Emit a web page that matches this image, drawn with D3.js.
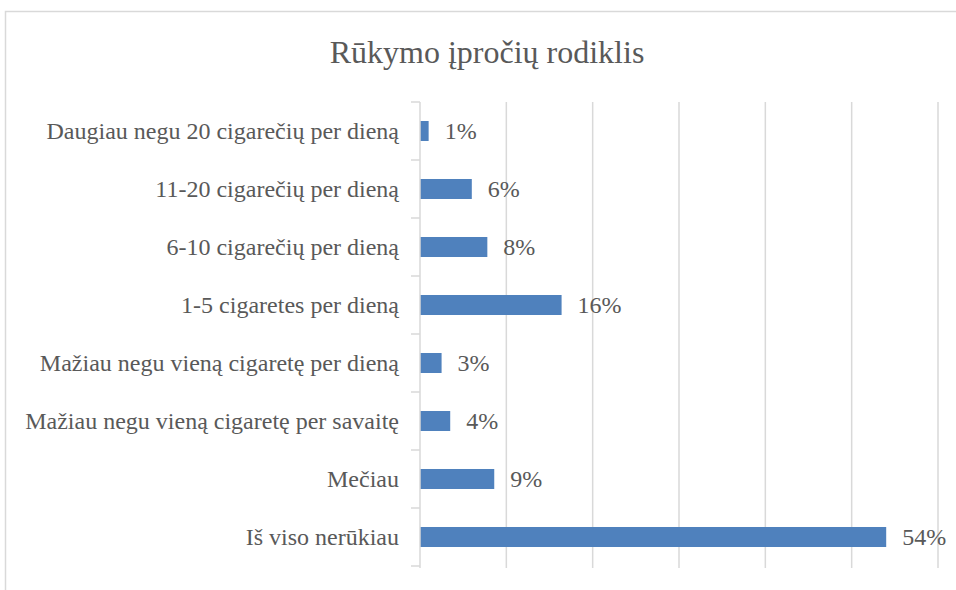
<!DOCTYPE html>
<html><head><meta charset="utf-8">
<script src="https://cdn.jsdelivr.net/npm/d3@7"></script>
<style>body{margin:0;background:#fff}svg{display:block}</style>
</head><body>
<svg id="c" width="956" height="590"></svg>
<script>
const title = "Rūkymo įpročių rodiklis";
const categories = [
  "Daugiau negu 20 cigarečių per dieną",
  "11-20 cigarečių per dieną",
  "6-10 cigarečių per dieną",
  "1-5 cigaretes per dieną",
  "Mažiau negu vieną cigaretę per dieną",
  "Mažiau negu vieną cigaretę per savaitę",
  "Mečiau",
  "Iš viso nerūkiau"
];
const values = [1.0, 6.0, 7.8, 16.4, 2.5, 3.5, 8.6, 54.0];
const valueLabels = ["1%", "6%", "8%", "16%", "3%", "4%", "9%", "54%"];
const xTicks = [0, 10, 20, 30, 40, 50, 60];

const FONT = "Liberation Serif";
const svg = d3.select("#c");
svg.append("rect").attr("x",5.5).attr("y",11.5).attr("width",1000).attr("height",1000)
  .attr("fill","none").attr("stroke","#d9d9d9").attr("stroke-width",1.5);

svg.append("text").attr("x",487).attr("y",63).attr("text-anchor","middle")
  .style("font-family",FONT).style("font-size","32px").style("fill","#595959").text(title);

const x = d3.scaleLinear().domain([0,60]).range([420,938]);
const y = d3.scaleBand().domain(categories).range([102,566]).paddingInner(0.655).paddingOuter(0.3275);

svg.append("g").selectAll("line").data(xTicks.slice(1)).join("line")
  .attr("x1",d=>x(d)).attr("x2",d=>x(d)).attr("y1",102).attr("y2",568)
  .attr("stroke","#d9d9d9").attr("stroke-width",1.5);

svg.append("g").selectAll("rect").data(values).join("rect")
  .attr("x",x(0)).attr("y",(d,i)=>y(categories[i]))
  .attr("width",d=>x(d)-x(0)).attr("height",y.bandwidth())
  .attr("fill","#4f81bd");

const yAxis = d3.axisLeft(y).tickSize(0).tickPadding(21);
const ga = svg.append("g").attr("transform","translate(420,0)").call(yAxis);
ga.select(".domain").remove();
ga.selectAll("text").style("font-family",FONT).style("font-size","24px").style("fill","#595959");
svg.append("line").attr("x1",420).attr("x2",420).attr("y1",102).attr("y2",568)
  .attr("stroke","#d9d9d9").attr("stroke-width",1.5);
svg.append("g").selectAll("line").data(d3.range(categories.length+1)).join("line")
  .attr("x1",411).attr("x2",420)
  .attr("y1",i=>102+i*(464/categories.length)).attr("y2",i=>102+i*(464/categories.length))
  .attr("stroke","#d9d9d9").attr("stroke-width",1.5);

svg.append("g").selectAll("text").data(values).join("text")
  .attr("x",d=>x(d)+16).attr("y",(d,i)=>y(categories[i])+y.bandwidth()/2)
  .attr("dy","0.35em").style("font-family",FONT).style("font-size","24px").style("fill","#595959")
  .text((d,i)=>valueLabels[i]);
</script>
</body></html>
